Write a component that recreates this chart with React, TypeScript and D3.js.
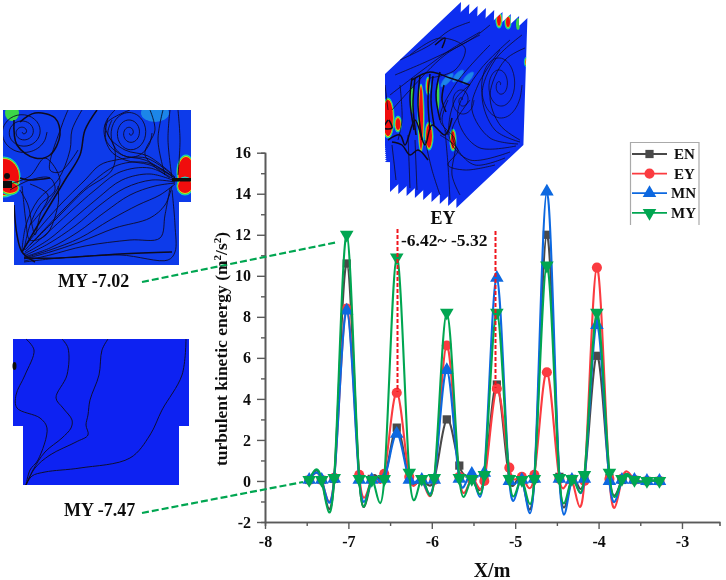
import { useEffect, useRef } from 'react';
import * as d3 from 'd3';

const xValues = [-7.47, -7.32, -7.17, -7.02, -6.87, -6.72, -6.57, -6.42, -6.27, -6.12, -5.97, -5.82, -5.67, -5.52, -5.37, -5.22, -5.07, -4.92, -4.77, -4.62, -4.47, -4.32, -4.17, -4.02, -3.87, -3.72, -3.57, -3.42, -3.27];
const enValues = [0.05, 0.05, 0.1, 10.6, 0.1, 0.1, 0.15, 2.6, 0.1, 0.05, 0.1, 3.0, 0.75, 0.1, 0.2, 4.7, 0.1, 0.1, 0.1, 12.0, 0.2, 0.1, 0.15, 6.1, 0.15, 0.05, 0.05, 0, 0];
const eyValues = [0.05, 0.05, 0.15, 8.4, 0.3, 0.05, 0.35, 4.3, 0.2, 0.05, 0.05, 6.6, 0.2, 0.1, 0, 4.5, 0.65, 0.2, 0.3, 5.3, 0.1, 0.05, 0, 10.4, 0.1, 0.1, 0.05, 0, 0];
const mnValues = [0.05, 0.05, 0.1, 8.3, 0.05, 0.05, 0.1, 2.3, 0.05, 0.05, 0.05, 5.4, 0.1, 0.35, 0.4, 9.9, 0, 0.05, 0.1, 14.1, 0.1, 0.05, 0.1, 7.6, 0, 0.05, 0.05, 0, 0];
const myValues = [0.05, 0.05, 0.15, 12.0, 0.1, 0.05, 0.1, 10.9, 0.4, 0.1, 0.15, 8.2, 0.15, 0.1, 0.3, 8.2, 0.1, 0.05, 0.1, 10.5, 0.15, 0.1, 0.3, 8.2, 0.4, 0.1, 0.05, 0, 0];

const seriesNames = ['EN', 'EY', 'MN', 'MY'];
const seriesValues = [enValues, eyValues, mnValues, myValues];
const seriesColors = ['#4a4a4a', '#fb3a3f', '#0b68e0', '#00a651'];

const xTicks = [-8, -7, -6, -5, -4, -3];
const xMinor = [-7.5, -6.5, -5.5, -4.5, -3.5];
const yTicks = [-2, 0, 2, 4, 6, 8, 10, 12, 14, 16];
const yMinor = [-1, 1, 3, 5, 7, 9, 11, 13, 15];

type Pt = [number, number];

// streamlines of the CFD insets, in page pixels
const topLines: Pt[][] = [
  [[175, 180], [150, 168], [120, 172], [95, 190], [70, 212], [45, 235], [25, 252]],
  [[175, 181], [150, 174], [122, 180], [98, 198], [72, 220], [48, 240], [24, 254]],
  [[175, 182], [152, 180], [125, 188], [100, 205], [75, 226], [48, 244], [24, 256]],
  [[175, 183], [155, 186], [130, 195], [105, 212], [78, 232], [50, 248], [24, 257]],
  [[175, 184], [160, 195], [138, 205], [110, 220], [80, 238], [50, 250], [24, 258]],
  [[172, 186], [165, 205], [150, 218], [115, 228], [80, 242], [50, 252], [24, 259]],
  [[170, 188], [165, 215], [160, 238], [130, 240], [85, 246], [50, 255], [24, 261]],
  [[172, 190], [175, 225], [175, 252], [168, 260], [120, 255], [60, 258], [24, 262]],
  [[175, 178], [148, 163], [118, 165], [90, 184], [65, 208], [42, 232], [25, 250]],
  [[175, 177], [146, 158], [116, 160], [100, 165], [85, 180], [60, 205], [38, 230], [24, 248]],
  [[82, 110], [72, 130], [70, 150], [58, 180], [38, 200], [26, 225], [22, 250]],
  [[115, 110], [105, 125], [115, 150], [112, 170], [85, 190], [60, 215], [30, 245]],
  [[130, 110], [105, 125], [110, 150], [125, 160], [150, 165], [175, 178]],
  [[10, 190], [30, 180], [50, 178], [55, 190], [40, 205], [30, 225], [24, 250]],
  [[10, 184], [30, 176], [45, 158], [60, 180], [50, 200], [30, 225]],
  [[20, 190], [28, 205], [32, 225], [35, 235], [40, 215], [48, 195], [30, 184]],
  [[22, 186], [24, 205], [26, 222], [30, 240], [46, 235], [58, 205], [58, 186]],
  [[170, 110], [168, 140], [172, 178]],
  [[178, 110], [180, 140], [178, 175]],
  [[163, 110], [158, 140], [165, 175]],
  [[150, 110], [155, 130], [145, 155], [170, 178]],
  [[108, 118], [106, 140], [122, 155], [145, 160], [172, 176]],
  [[112, 120], [108, 135], [125, 150], [148, 156], [172, 174]],
  [[68, 110], [62, 125], [50, 170], [60, 172], [78, 150]],
];
const topThick: Pt[][] = [
  [[14, 120], [17, 145], [35, 158], [50, 155], [60, 135], [55, 118], [35, 113], [20, 122]],
  [[97, 110], [85, 130], [80, 155], [65, 180], [50, 205], [35, 230], [22, 252]],
  [[14, 205], [17, 235], [22, 252], [35, 262]],
  [[24, 258], [60, 258], [120, 254], [172, 252]],
  [[50, 178], [28, 180], [20, 178]],
];
const lowLines: Pt[][] = [
  [[26, 339], [34, 350], [25, 375], [16, 395], [17, 408], [40, 418], [47, 428], [38, 460], [30, 470], [26, 485]],
  [[62, 339], [68, 348], [67, 375], [56, 398], [63, 408], [72, 420], [71, 428], [62, 438], [45, 452], [33, 470], [26, 485]],
  [[108, 339], [102, 350], [99, 375], [90, 400], [88, 415], [86, 425], [88, 435], [76, 442], [50, 455], [35, 468], [26, 485]],
  [[186, 339], [182, 375], [162, 410], [150, 435], [130, 458], [80, 468], [45, 472], [32, 476], [26, 485]],
];
const cubeLines: Pt[][] = [
  [[520, 140], [500, 125], [490, 95], [505, 60], [525, 48]],
  [[520, 142], [495, 130], [482, 95], [495, 60], [522, 35]],
  [[518, 144], [490, 138], [472, 110], [478, 85], [500, 50]],
  [[516, 146], [480, 148], [462, 130], [458, 110], [480, 70], [510, 40]],
  [[510, 152], [470, 160], [450, 140], [455, 100], [470, 85]],
  [[495, 165], [465, 170], [448, 165], [458, 150], [440, 135]],
  [[505, 158], [475, 165], [458, 150], [452, 130], [470, 100]],
  [[460, 195], [452, 175], [455, 140], [440, 120], [455, 85], [490, 45]],
  [[400, 60], [430, 45], [450, 30], [470, 22]],
  [[395, 75], [430, 60], [470, 40], [490, 25]],
  [[390, 95], [420, 72], [450, 50], [480, 32]],
  [[392, 110], [410, 90], [445, 55], [480, 35]],
  [[410, 55], [440, 38], [465, 48], [455, 70], [430, 78]],
  [[392, 145], [396, 180]],
  [[408, 135], [410, 188]],
  [[415, 140], [417, 190]],
  [[425, 140], [432, 170], [440, 195]],
  [[445, 130], [448, 165], [450, 200]],
  [[400, 85], [402, 120], [398, 140]],
  [[448, 100], [442, 120], [448, 135]],
  [[385, 85], [388, 110]],
];
const cubeDark: Pt[][] = [
  [[388, 140], [400, 135], [405, 145], [415, 120], [425, 145], [432, 125], [445, 135], [452, 118]],
  [[392, 142], [402, 145], [410, 155], [418, 150], [428, 160]],
  [[412, 78], [410, 100], [414, 130]],
  [[415, 78], [413, 105], [416, 135]],
  [[420, 75], [418, 105], [422, 140]],
  [[430, 74], [428, 100], [430, 130]],
  [[433, 76], [431, 100], [434, 125]],
  [[440, 72], [436, 95], [440, 120]],
  [[444, 85], [442, 100], [446, 112]],
  [[412, 80], [430, 72], [450, 78], [470, 85]],
  [[435, 45], [445, 38], [442, 48]],
  [[388, 120], [384, 128], [392, 128], [389, 120]],
];

const sliceCount = [0, 1, 2, 3, 4, 5, 6, 7, 8];
const topLayerHeat = [
  { cx: 186, cy: 172, rx: 8, ry: 15 },
  { cx: 185, cy: 186, rx: 7, ry: 7 },
  { cx: 4, cy: 177, rx: 15, ry: 18 },
  { cx: 10, cy: 188, rx: 8, ry: 5 },
];
const cubeHeat = [
  { cx: 388, cy: 118, rx: 5, ry: 18 },
  { cx: 398, cy: 124, rx: 2.5, ry: 6 },
  { cx: 421, cy: 118, rx: 2, ry: 32 },
  { cx: 429, cy: 136, rx: 3, ry: 12 },
  { cx: 453, cy: 140, rx: 2, ry: 9 },
  { cx: 428, cy: 86, rx: 1, ry: 7 },
  { cx: 499, cy: 20, rx: 2, ry: 6 },
  { cx: 508, cy: 22, rx: 2, ry: 5 },
  { cx: 527, cy: 62, rx: 1.5, ry: 3 },
];
const greenStreaks = [
  { cx: 412, cy: 100, rx: 1.4, ry: 14 },
  { cx: 438, cy: 96, rx: 1.4, ry: 16 },
  { cx: 518, cy: 24, rx: 2, ry: 6 },
  { cx: 12, cy: 113, rx: 7, ry: 8 },
];
const paleSpots = [
  { cx: 447, cy: 80, rx: 9 },
  { cx: 458, cy: 76, rx: 8 },
  { cx: 468, cy: 78, rx: 8 },
];

const FONT = '"Liberation Serif", "Times New Roman", serif';
const BLUE = '#0a2ff0';

const curve = d3.line<Pt>().curve(d3.curveCatmullRom.alpha(0.5));

function spiral(cx: number, cy: number, rx: number, ry: number, turns: number): Pt[] {
  const pts: Pt[] = [];
  for (let a = 0; a < turns * Math.PI * 2; a += 0.4) {
    const f = 1 - a / (turns * Math.PI * 2);
    pts.push([cx + rx * f * Math.cos(a), cy + ry * f * Math.sin(a)]);
  }
  return pts;
}

function Heat({ cx, cy, rx, ry }: { cx: number; cy: number; rx: number; ry: number }) {
  return (
    <g filter="url(#soft)">
      <ellipse cx={cx} cy={cy} rx={rx + 1.6} ry={ry + 2.6} fill="#17c8d8" />
      <ellipse cx={cx} cy={cy} rx={rx + 0.9} ry={ry + 1.6} fill="#35d63a" />
      <ellipse cx={cx} cy={cy} rx={rx + 0.4} ry={ry + 0.8} fill="#f2e51c" />
      <ellipse cx={cx} cy={cy} rx={rx} ry={ry} fill="#f01010" />
    </g>
  );
}

function Chart() {
  const ref = useRef<SVGGElement>(null);

  useEffect(() => {
    if (!ref.current) return;
    const g = d3.select(ref.current);
    g.selectAll('*').remove();

    const x = d3.scaleLinear().domain([-8, -2.55]).range([265, 719.5]);
    const y = d3.scaleLinear().domain([-2, 16]).range([522, 152.7]);
    const AXIS = '#5a5a5a';

    const styleAxis = (s: d3.Selection<SVGGElement, unknown, null, undefined>) => {
      s.select('.domain').attr('stroke', AXIS).attr('stroke-width', 1.6);
      s.selectAll('line').attr('stroke', AXIS).attr('stroke-width', 1.4);
      s.selectAll('text').attr('fill', '#111').attr('font-family', FONT)
        .attr('font-weight', 700).attr('font-size', 16);
    };

    g.append('g').attr('transform', 'translate(0,522)')
      .call(d3.axisBottom(x).tickValues(xMinor).tickSize(4).tickFormat(() => ''))
      .call(styleAxis);
    g.append('g').attr('transform', 'translate(0,522)')
      .call(d3.axisBottom(x).tickValues(xTicks).tickSize(7).tickPadding(7).tickSizeOuter(0).tickFormat(d => String(d)))
      .call(styleAxis);
    g.append('g').attr('transform', 'translate(265,0)')
      .call(d3.axisLeft(y).tickValues(yMinor).tickSize(4).tickFormat(() => ''))
      .call(styleAxis);
    g.append('g').attr('transform', 'translate(265,0)')
      .call(d3.axisLeft(y).tickValues(yTicks).tickSize(8).tickPadding(6).tickSizeOuter(0).tickFormat(d => String(d)))
      .call(styleAxis);

    const line = d3.line<number>()
      .x((_, i) => x(xValues[i]))
      .y(d => y(d))
      .curve(d3.curveNatural);

    const symbols = [d3.symbolSquare, d3.symbolCircle, d3.symbolTriangle, d3.symbolTriangle];
    const sizes = [68, 80, 80, 80];

    const addMarker = (sel: d3.Selection<SVGGElement, unknown, null, undefined>, i: number, px: number, py: number) => {
      const flip = i === 3;
      sel.append('path')
        .attr('d', d3.symbol().type(symbols[i]).size(sizes[i])()!)
        .attr('transform', `translate(${px},${py})${flip ? ' rotate(180)' : ''}`)
        .attr('fill', seriesColors[i]);
    };

    seriesValues.forEach((vals, i) => {
      const s = g.append('g');
      s.append('path').attr('d', line(vals)!).attr('fill', 'none')
        .attr('stroke', seriesColors[i]).attr('stroke-width', 2.1);
      vals.forEach((v, j) => addMarker(s, i, x(xValues[j]), y(v)));
    });

    // legend
    const leg = g.append('g');
    leg.append('path').attr('d', 'M630.5,225V142.5H699V225').attr('fill', 'none')
      .attr('stroke', '#aaa').attr('stroke-width', 1.2);
    seriesNames.forEach((name, i) => {
      const ly = 154 + i * 19.6;
      leg.append('line').attr('x1', 632).attr('x2', 667).attr('y1', ly).attr('y2', ly)
        .attr('stroke', seriesColors[i]).attr('stroke-width', 1.8);
      addMarker(leg, i, 649.5, ly);
      leg.append('text').attr('x', i < 2 ? 674 : 671).attr('y', ly + 5).text(name)
        .attr('font-family', FONT).attr('font-weight', 700).attr('font-size', 15).attr('fill', '#111');
    });
  }, []);

  return <g ref={ref} />;
}

function Stream({ lines, width, color = '#0a0a1e' }: { lines: Pt[][]; width: number; color?: string }) {
  return (
    <g fill="none" stroke={color} strokeWidth={width}>
      {lines.map((l, i) => <path key={i} d={curve(l)!} />)}
    </g>
  );
}

const label = { fontFamily: FONT, fontWeight: 700, fill: '#111' } as const;

export default function App() {
  const slice = (k: number) => {
    const dx = 8.3 * k;
    const dy = 2 * k;
    const p: Pt[] = [[385, 74], [461, 2], [457, 129], [390, 192], [390, 148], [385, 146]];
    return p.map(([a, b], i) => `${a + (i === 5 ? 0 : dx)},${b + dy}`).join(' ');
  };

  return (
    <svg width={726} height={580} viewBox="0 0 726 580" style={{ position: 'fixed', left: 0, top: 0, background: '#fff' }}>
      <defs>
        <filter id="soft"><feGaussianBlur stdDeviation="0.7" /></filter>
        <filter id="page" x="0" y="0" width="100%" height="100%"><feGaussianBlur stdDeviation="0.4" /></filter>
        <clipPath id="topClip"><path d="M3,110H191V202H179V265H14V202H3Z" /></clipPath>
        <clipPath id="cubeClip">
          {sliceCount.map(k => <polygon key={k} points={slice(k)} />)}
        </clipPath>
      </defs>

      <g filter="url(#page)">
        <rect width={726} height={580} fill="#fff" />

        {/* upper inset */}
        <g clipPath="url(#topClip)">
          <rect x={0} y={105} width={195} height={165} fill="#0b3bea" />
          <ellipse cx={155} cy={113} rx={14} ry={9} fill="#1f86e8" filter="url(#soft)" />
          {topLayerHeat.map((h, i) => <Heat key={i} {...h} />)}
          {greenStreaks.slice(3).map((h, i) => <ellipse key={i} {...h} fill="#3bd64a" filter="url(#soft)" />)}
          <Stream lines={topLines} width={0.85} />
          <Stream lines={topThick} width={1.5} />
          <path d={curve(spiral(23, 132, 24, 22, 3.5))!} fill="none" stroke="#0a0a1e" strokeWidth={0.85} />
          <path d={curve(spiral(130, 133, 22, 26, 3.5))!} fill="none" stroke="#0a0a1e" strokeWidth={0.85} />
          <circle cx={7} cy={176} r={3} fill="#111" />
          <rect x={3} y={181} width={9} height={7} fill="#111" />
          <rect x={172} y={178} width={19} height={3.5} fill="#111" />
        </g>

        {/* lower inset */}
        <path d="M13,339H189V426H179V485H23V426H13Z" fill="#0a24f2" />
        <Stream lines={lowLines} width={0.9} />
        <ellipse cx={14.5} cy={366} rx={2} ry={4} fill="#111" />

        {/* EY slices */}
        {sliceCount.map(k => <polygon key={k} points={slice(k)} fill={BLUE} />)}
        <g clipPath="url(#cubeClip)">
          {paleSpots.map((s, i) => (
            <ellipse key={i} cx={s.cx} cy={s.cy} rx={s.rx} ry={3} fill="#1f86e8"
              transform={`rotate(-48 ${s.cx} ${s.cy})`} filter="url(#soft)" />
          ))}
          {cubeHeat.map((h, i) => <Heat key={i} {...h} />)}
          {greenStreaks.slice(0, 3).map((h, i) => <ellipse key={i} {...h} fill="#3bd64a" filter="url(#soft)" />)}
          <Stream lines={cubeLines} width={0.75} />
          <path d={curve(spiral(500, 85, 22, 36, 3))!} fill="none" stroke="#0a0a1e" strokeWidth={0.7} />
          <path d={curve(spiral(462, 100, 12, 16, 2))!} fill="none" stroke="#0a0a1e" strokeWidth={0.7} />
          <Stream lines={cubeDark} width={1.5} />
        </g>

        <Chart />

        {/* callouts */}
        <line x1={142} y1={282} x2={338} y2={242} stroke="#00a651" strokeWidth={2.2} strokeDasharray="7 3" />
        <line x1={142} y1={513} x2={303} y2={482} stroke="#00a651" strokeWidth={2.2} strokeDasharray="7 3" />
        <line x1={397.5} y1={229} x2={397.5} y2={392} stroke="#f0141e" strokeWidth={2} strokeDasharray="4 2" />
        <line x1={495.5} y1={231} x2={495.5} y2={388} stroke="#f0141e" strokeWidth={2} strokeDasharray="4 2" />

        <text x={443} y={224} textAnchor="middle" fontSize={18} {...label}>EY</text>
        <text x={401} y={246} fontSize={17.5} {...label}>-6.42~ -5.32</text>
        <text x={58} y={287} fontSize={18} {...label}>MY -7.02</text>
        <text x={64} y={516} fontSize={18} {...label}>MY -7.47</text>
        <text x={492} y={577} textAnchor="middle" fontSize={20} {...label}>X/m</text>
        <text transform="translate(227,349) rotate(-90)" textAnchor="middle" fontSize={17.5} {...label}>
          turbulent kinetic energy (m<tspan fontSize={11} dy={-6}>2</tspan><tspan dy={6}>/s</tspan><tspan fontSize={11} dy={-6}>2</tspan><tspan dy={6}>)</tspan>
        </text>
      </g>
    </svg>
  );
}
